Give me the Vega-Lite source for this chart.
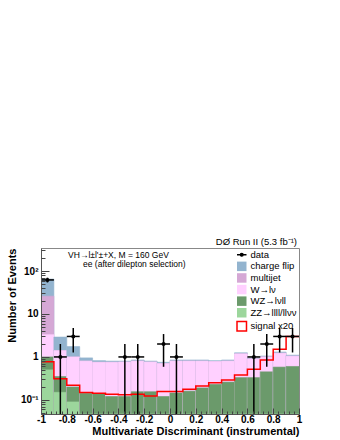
{
  "$schema": "https://vega.github.io/schema/vega-lite/v6.json",
  "autosize": {"type": "none"},
  "padding": {"left": 41, "top": 248, "right": 41, "bottom": 26},
  "width": 258,
  "height": 166,
  "background": "white",
  "title": {"text": "DØ Run II (5.3 fb⁻¹)", "anchor": "end", "frame": "group", "baseline": "bottom", "offset": 2, "dx": -2, "dy": 10, "fontSize": 9.5, "fontWeight": "normal", "font": "Liberation Sans", "color": "black"},
  "config": {"view": {"stroke": "#888", "strokeWidth": 1}, "font": "Liberation Sans"},
  "datasets": {
    "bkg": [
      {"lo": -1.0, "hi": -0.9, "cf": 65, "mj": 26, "w": 3.3, "wz": 1.0, "zz": 0.5},
      {"lo": -0.9, "hi": -0.8, "cf": 2.9, "mj": 1.4, "w": 1.4, "wz": 0.35, "zz": 0.15},
      {"lo": -0.8, "hi": -0.7, "cf": 1.74, "mj": 1.0, "w": 1.0, "wz": 0.2, "zz": 0.09},
      {"lo": -0.7, "hi": -0.6, "cf": 0.95, "mj": 0.8, "w": 0.8, "wz": 0.143, "zz": 0.03},
      {"lo": -0.6, "hi": -0.5, "cf": 0.82, "mj": 0.75, "w": 0.75, "wz": 0.14, "zz": 0.03},
      {"lo": -0.5, "hi": -0.4, "cf": 0.8, "mj": 0.75, "w": 0.75, "wz": 0.12, "zz": 0.03},
      {"lo": -0.4, "hi": -0.3, "cf": 0.8, "mj": 0.76, "w": 0.76, "wz": 0.12, "zz": 0.03},
      {"lo": -0.3, "hi": -0.2, "cf": 0.85, "mj": 0.8, "w": 0.8, "wz": 0.155, "zz": 0.03},
      {"lo": -0.2, "hi": -0.1, "cf": 0.8, "mj": 0.76, "w": 0.76, "wz": 0.155, "zz": 0.03},
      {"lo": -0.1, "hi": 0.0, "cf": 0.75, "mj": 0.7, "w": 0.7, "wz": 0.12, "zz": 0.03},
      {"lo": 0.0, "hi": 0.1, "cf": 0.85, "mj": 0.8, "w": 0.8, "wz": 0.145, "zz": 0.03},
      {"lo": 0.1, "hi": 0.2, "cf": 0.85, "mj": 0.8, "w": 0.8, "wz": 0.16, "zz": 0.03},
      {"lo": 0.2, "hi": 0.3, "cf": 0.85, "mj": 0.8, "w": 0.8, "wz": 0.19, "zz": 0.03},
      {"lo": 0.3, "hi": 0.4, "cf": 0.82, "mj": 0.78, "w": 0.78, "wz": 0.23, "zz": 0.03},
      {"lo": 0.4, "hi": 0.5, "cf": 0.85, "mj": 0.8, "w": 0.8, "wz": 0.26, "zz": 0.03},
      {"lo": 0.5, "hi": 0.6, "cf": 1.25, "mj": 1.18, "w": 1.18, "wz": 0.33, "zz": 0.03},
      {"lo": 0.6, "hi": 0.7, "cf": 0.95, "mj": 0.9, "w": 0.9, "wz": 0.33, "zz": 0.03},
      {"lo": 0.7, "hi": 0.8, "cf": 1.05, "mj": 1.0, "w": 1.0, "wz": 0.45, "zz": 0.03},
      {"lo": 0.8, "hi": 0.9, "cf": 1.3, "mj": 1.22, "w": 1.22, "wz": 0.58, "zz": 0.03},
      {"lo": 0.9, "hi": 1.0, "cf": 1.1, "mj": 1.04, "w": 1.04, "wz": 0.6, "zz": 0.03}
    ],
    "signal": [
      {"x": -1.0, "s": 0.77}, {"x": -0.9, "s": 0.31}, {"x": -0.8, "s": 0.22}, {"x": -0.7, "s": 0.148},
      {"x": -0.6, "s": 0.143}, {"x": -0.5, "s": 0.136}, {"x": -0.4, "s": 0.131}, {"x": -0.3, "s": 0.136},
      {"x": -0.2, "s": 0.124}, {"x": -0.1, "s": 0.156}, {"x": 0.0, "s": 0.156}, {"x": 0.1, "s": 0.177},
      {"x": 0.2, "s": 0.21}, {"x": 0.3, "s": 0.25}, {"x": 0.4, "s": 0.29}, {"x": 0.5, "s": 0.38},
      {"x": 0.6, "s": 0.52}, {"x": 0.7, "s": 0.85}, {"x": 0.8, "s": 1.5}, {"x": 0.9, "s": 3.0}, {"x": 1.0, "s": 3.0}
    ],
    "obs": [
      {"x": -0.95, "n": 62, "lo": 54.1, "hi": 69.9, "xl": -1.0, "xh": -0.9},
      {"x": -0.85, "n": 1, "lo": 0.01, "hi": 2, "xl": -0.9, "xh": -0.8},
      {"x": -0.75, "n": 3, "lo": 1.27, "hi": 4.73, "xl": -0.8, "xh": -0.7},
      {"x": -0.35, "n": 1, "lo": 0.01, "hi": 2, "xl": -0.4, "xh": -0.3},
      {"x": -0.25, "n": 1, "lo": 0.01, "hi": 2, "xl": -0.3, "xh": -0.2},
      {"x": -0.05, "n": 2, "lo": 0.59, "hi": 3.41, "xl": -0.1, "xh": 0.0},
      {"x": 0.05, "n": 1, "lo": 0.01, "hi": 2, "xl": 0.0, "xh": 0.1},
      {"x": 0.65, "n": 1, "lo": 0.01, "hi": 2, "xl": 0.6, "xh": 0.7},
      {"x": 0.75, "n": 2, "lo": 0.59, "hi": 3.41, "xl": 0.7, "xh": 0.8},
      {"x": 0.85, "n": 3, "lo": 1.27, "hi": 4.73, "xl": 0.8, "xh": 0.9},
      {"x": 0.95, "n": 3, "lo": 1.27, "hi": 4.73, "xl": 0.9, "xh": 1.0}
    ],
    "notes": [
      {"t": "VH→l±l'±+X, M = 160 GeV", "px": -0.79, "py": 235},
      {"t": "ee  (after dilepton selection)", "px": -0.674, "py": 143}
    ]
  },
  "resolve": {"axis": {"x": "independent", "y": "independent"}},
  "layer": [
    {
      "data": {"name": "bkg"},
      "transform": [{"fold": ["cf", "mj", "w", "wz", "zz"], "as": ["comp", "top"]}],
      "mark": {"type": "bar", "clip": true, "strokeWidth": 0.6},
      "encoding": {
        "x": {"field": "lo", "type": "quantitative", "scale": {"domain": [-1, 1], "nice": false, "zero": false},
          "axis": {"values": [-1, -0.8, -0.6, -0.4, -0.2, 0, 0.2, 0.4, 0.6, 0.8, 1],
            "labelExpr": "datum.value < -0.001 ? '-' + format(-datum.value, '~g') : (datum.value > 0.001 ? format(datum.value, '~g') : '0')",
            "tickSize": -6, "tickColor": "#444", "labelPadding": 6, "labelFont": "Liberation Sans", "labelFontSize": 10, "labelFontWeight": "bold", "labelColor": "black",
            "labelFlush": false, "labelOverlap": false, "grid": false, "domainColor": "#555", "zindex": 1,
            "title": "Multivariate Discriminant (instrumental)", "titleAnchor": "end", "titleFont": "Liberation Sans", "titleFontSize": 11, "titleFontWeight": "bold", "titleColor": "black", "titlePadding": 1}},
        "x2": {"field": "hi"},
        "y": {"field": "top", "type": "quantitative", "stack": null,
          "scale": {"type": "log", "domain": [0.047, 343], "nice": false},
          "axis": {"values": [0.1, 1, 10, 100],
            "labelExpr": "datum.value < 0.5 ? '10⁻¹' : (datum.value < 5 ? '1' : (datum.value < 50 ? '10' : '10²'))",
            "tickSize": -8, "tickColor": "#444", "labelPadding": 11, "labelFont": "Liberation Sans", "labelFontSize": 10, "labelFontWeight": "bold", "labelColor": "black",
            "labelOverlap": false, "grid": false, "domainColor": "#555", "zindex": 1,
            "title": "Number of Events", "titleAnchor": "end", "titleFont": "Liberation Sans", "titleFontSize": 11, "titleFontWeight": "bold", "titleColor": "black", "titlePadding": 3}},
        "y2": {"datum": 0.047},
        "stroke": {"field": "comp", "type": "nominal", "legend": null,
          "scale": {"domain": ["data", "cf", "mj", "w", "wz", "zz", "sig"],
            "range": ["#000000", "#93b4cf", "#d5a8d5", "#ffd0ff", "#6b9a6b", "#9cd69c", "#ff0000"]}},
        "color": {"field": "comp", "type": "nominal",
          "scale": {"domain": ["data", "cf", "mj", "w", "wz", "zz", "sig"],
            "range": ["#000000", "#93b4cf", "#d5a8d5", "#ffd0ff", "#6b9a6b", "#9cd69c", "#ffffff"]},
          "legend": {"orient": "top-right", "offset": 0, "title": null, "padding": 2, "rowPadding": 0.6,
            "symbolType": "square", "symbolSize": 90, "labelOffset": 4, "labelFont": "Liberation Sans", "labelFontSize": 9.5, "labelColor": "black",
            "labelExpr": "datum.value === 'data' ? 'data' : datum.value === 'cf' ? 'charge flip' : datum.value === 'mj' ? 'multijet' : datum.value === 'w' ? 'W→lν' : datum.value === 'wz' ? 'WZ→lνll' : datum.value === 'zz' ? 'ZZ→llll/llνν' : 'signal x20'",
            "encode": {"symbols": {"update": {
              "stroke": {"signal": "datum.value === 'sig' ? '#ff0000' : (datum.value === 'data' ? 'black' : 'transparent')"},
              "strokeWidth": {"signal": "datum.value === 'sig' ? 1.5 : (datum.value === 'data' ? 1.3 : 0)"},
              "shape": {"signal": "datum.value === 'data' ? 'M-1,0H1M-0.3,0a0.3,0.3 0 1,0 0.6,0a0.3,0.3 0 1,0 -0.6,0Z' : 'square'"}
            }}}}}
      }
    },
    {
      "data": {"name": "signal"},
      "mark": {"type": "line", "interpolate": "step-after", "color": "#ff0000", "strokeWidth": 1.5, "clip": true},
      "encoding": {
        "x": {"field": "x", "type": "quantitative",
          "axis": {"orient": "bottom", "values": [-0.96, -0.92, -0.88, -0.84, -0.76, -0.72, -0.68, -0.64, -0.56, -0.52, -0.48, -0.44, -0.36, -0.32, -0.28, -0.24, -0.16, -0.12, -0.08, -0.04, 0.04, 0.08, 0.12, 0.16, 0.24, 0.28, 0.32, 0.36, 0.44, 0.48, 0.52, 0.56, 0.64, 0.68, 0.72, 0.76, 0.84, 0.88, 0.92, 0.96],
            "tickSize": -3, "tickColor": "#444", "labels": false, "domain": false, "grid": false, "title": null, "zindex": 1}},
        "y": {"field": "s", "type": "quantitative",
          "axis": {"orient": "left", "values": [0.05, 0.06, 0.07, 0.08, 0.09, 0.2, 0.3, 0.4, 0.5, 0.6, 0.7, 0.8, 0.9, 2, 3, 4, 5, 6, 7, 8, 9, 20, 30, 40, 50, 60, 70, 80, 90, 200, 300],
            "tickSize": -4, "tickColor": "#444", "labels": false, "domain": false, "grid": false, "title": null, "zindex": 1}}
      }
    },
    {
      "data": {"name": "obs"},
      "mark": {"type": "rule", "color": "black", "strokeWidth": 1.5, "clip": true},
      "encoding": {
        "x": {"field": "x", "type": "quantitative", "axis": null},
        "y": {"field": "lo", "type": "quantitative", "axis": null},
        "y2": {"field": "hi"}
      }
    },
    {
      "data": {"name": "obs"},
      "mark": {"type": "rule", "color": "black", "strokeWidth": 1.5, "clip": true},
      "encoding": {
        "x": {"field": "xl", "type": "quantitative", "axis": null},
        "x2": {"field": "xh"},
        "y": {"field": "n", "type": "quantitative", "axis": null}
      }
    },
    {
      "data": {"name": "obs"},
      "mark": {"type": "point", "filled": true, "color": "black", "size": 16, "opacity": 1, "shape": "circle"},
      "encoding": {
        "x": {"field": "x", "type": "quantitative", "axis": null},
        "y": {"field": "n", "type": "quantitative", "axis": null}
      }
    },
    {
      "data": {"name": "notes"},
      "mark": {"type": "text", "align": "left", "baseline": "middle", "font": "Liberation Sans", "fontSize": 8.5, "color": "black"},
      "encoding": {
        "x": {"field": "px", "type": "quantitative", "axis": null},
        "y": {"field": "py", "type": "quantitative", "axis": null},
        "text": {"field": "t"}
      }
    }
  ]
}
